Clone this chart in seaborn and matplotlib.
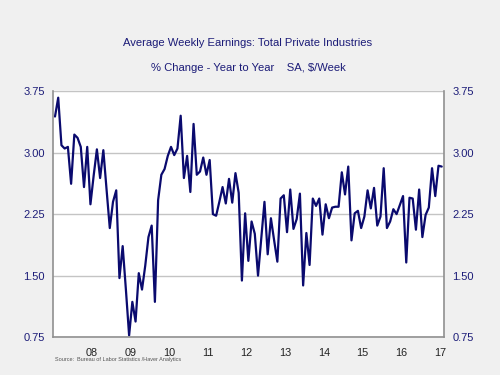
import numpy as np
import pandas as pd
import matplotlib
matplotlib.use("Agg")
import matplotlib.pyplot as plt
import matplotlib.transforms as mtransforms
import seaborn as sns

# monthly observations, Mar 2007 - Mar 2017 (% change, year to year)
months = pd.date_range("2007-03-01", periods=121, freq="MS")
earnings_yoy = [
    3.44, 3.67, 3.09, 3.05, 3.07, 2.62, 3.22, 3.18, 3.07, 2.58,
    3.07, 2.37, 2.72, 3.04, 2.69, 3.03, 2.55, 2.08, 2.40, 2.54,
    1.47, 1.86, 1.33, 0.77, 1.18, 0.94, 1.53, 1.33, 1.62, 1.97,
    2.11, 1.18, 2.42, 2.73, 2.80, 2.96, 3.07, 2.97, 3.05, 3.45,
    2.69, 2.96, 2.52, 3.35, 2.73, 2.77, 2.94, 2.73, 2.91, 2.25,
    2.23, 2.40, 2.58, 2.38, 2.68, 2.39, 2.75, 2.51, 1.44, 2.26,
    1.68, 2.16, 2.01, 1.50, 1.95, 2.40, 1.76, 2.20, 1.93, 1.67,
    2.44, 2.48, 2.03, 2.55, 2.07, 2.19, 2.50, 1.38, 2.02, 1.63,
    2.44, 2.35, 2.44, 2.00, 2.37, 2.20, 2.33, 2.34, 2.34, 2.76,
    2.49, 2.83, 1.93, 2.26, 2.29, 2.08, 2.22, 2.54, 2.32, 2.57,
    2.11, 2.22, 2.81, 2.08, 2.16, 2.31, 2.25, 2.36, 2.47, 1.66,
    2.45, 2.44, 2.06, 2.55, 1.97, 2.24, 2.33, 2.81, 2.47, 2.84,
    2.83,
]
years = list(range(2008, 2018))
year_labels = ["08", "09", "10", "11", "12", "13", "14", "15", "16", "17"]
y_ticks = [0.75, 1.50, 2.25, 3.00, 3.75]

df = pd.DataFrame({
    "t": months.year + (months.month - 1) / 12.0,
    "v": earnings_yoy,
})

sns.set_style("white")
plt.rcParams["font.family"] = ["Liberation Sans", "DejaVu Sans"]

navy = "#1c1c78"
fig = plt.figure(figsize=(5, 3.75), dpi=100, facecolor="#f0f0f0")
ax = fig.add_axes([0.106, 0.101, 0.782, 0.656])
ax.set_facecolor("white")

sns.lineplot(data=df, x="t", y="v", ax=ax, color="#0a0a6e", linewidth=1.6)

ax.set_yticks(y_ticks)
ax.set_yticklabels([f"{v:.2f}" for v in y_ticks])
ax.yaxis.grid(True, color="#c4c4c4", linewidth=1.0)
ax.set_axisbelow(True)

ax.set_xticks(years)
ax.set_xticklabels(year_labels)
ax.set_xticks([y + m / 12.0 for y in range(2007, 2018) for m in range(12)], minor=True)
# limits after the ticks, so the monthly ticks do not widen the view
ax.set_xlim(2007.115, 2017.226)
ax.set_ylim(0.75, 3.75)

ax.tick_params(axis="x", which="major", length=4, width=0.8, color="#909090",
               pad=4, labelsize=7.8, labelcolor="#222222", direction="out")
ax.tick_params(axis="x", which="minor", length=2, width=0.6, color="#a0a0a0",
               direction="out")
ax.tick_params(axis="y", which="both", length=0, labelsize=8, labelcolor=navy,
               left=True, right=True, labelleft=True, labelright=True, pad=6)
shift = mtransforms.ScaledTranslation(4.5 / 100, 0, fig.dpi_scale_trans)
for lab in ax.get_xticklabels():
    lab.set_transform(lab.get_transform() + shift)

ax.set_xlabel("")
ax.set_ylabel("")
for side in ["left", "right", "bottom"]:
    ax.spines[side].set_color("#909090")
    ax.spines[side].set_linewidth(1.2)
ax.spines["top"].set_visible(False)

fig.text(0.496, 0.886, "Average Weekly Earnings: Total Private Industries",
         ha="center", va="center", fontsize=8.1, color=navy)
fig.text(0.496, 0.819, "% Change - Year to Year    SA, $/Week",
         ha="center", va="center", fontsize=8.1, color=navy)
fig.text(0.11, 0.047, "Source:  Bureau of Labor Statistics /Haver Analytics",
         ha="left", va="top", fontsize=4.0, color="#555555")

fig.savefig("out.png", dpi=100, facecolor=fig.get_facecolor())
